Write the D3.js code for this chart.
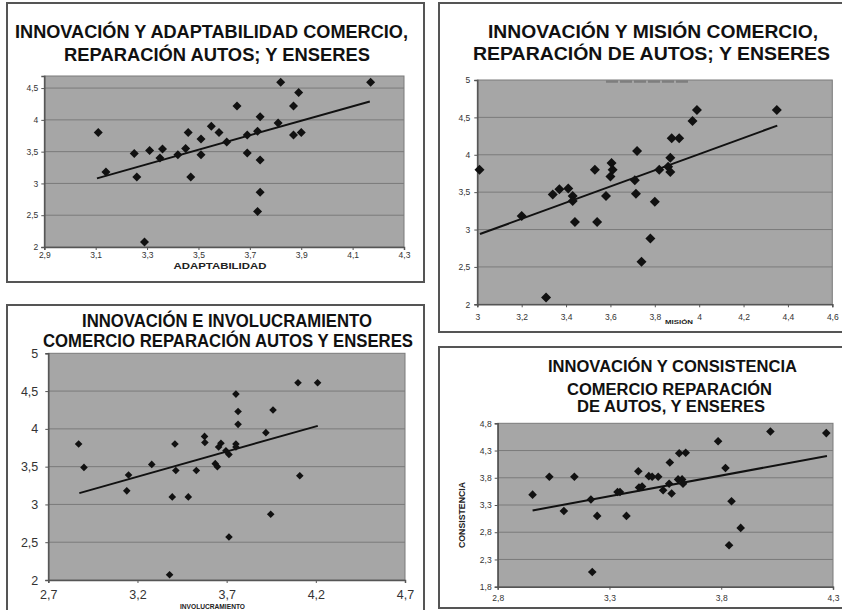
<!DOCTYPE html>
<html>
<head>
<meta charset="utf-8">
<script src="https://cdn.jsdelivr.net/npm/d3@7"></script>
<style>
  html, body { margin: 0; padding: 0; background: #ffffff; }
  svg { display: block; }
  text { font-family: "Liberation Sans", Arial, sans-serif; }
</style>
</head>
<body>
<svg id="chart" width="842" height="610"></svg>
<script>
// ---------- DATA ----------
// Panel 1: Innovación vs Adaptabilidad
const adaptX = [3.11, 3.14, 3.25, 3.26, 3.31, 3.36, 3.35, 3.29, 3.42, 3.45, 3.46, 3.47, 3.51, 3.51, 3.55, 3.58, 3.61, 3.65, 3.69, 3.69, 3.73, 3.74, 3.74, 3.74, 3.73, 3.81, 3.82, 3.87, 3.87, 3.89, 3.90, 4.17];
const adaptY = [3.80, 3.18, 3.47, 3.10, 3.52, 3.54, 3.40, 2.08, 3.45, 3.55, 3.80, 3.10, 3.70, 3.45, 3.90, 3.80, 3.65, 4.22, 3.76, 3.48, 3.82, 4.05, 3.37, 2.86, 2.56, 3.95, 4.59, 4.22, 3.76, 4.43, 3.80, 4.59];
const adaptTrend = [[3.105, 3.08], [4.167, 4.29]];
const adaptXTicks = [2.9, 3.1, 3.3, 3.5, 3.7, 3.9, 4.1, 4.3];
const adaptYTicks = [2, 2.5, 3, 3.5, 4, 4.5];

// Panel 2: Innovación vs Misión
const misionX = [3.01, 3.20, 3.31, 3.34, 3.37, 3.41, 3.43, 3.43, 3.44, 3.53, 3.54, 3.58, 3.605, 3.61, 3.60, 3.71, 3.72, 3.715, 3.74, 3.78, 3.80, 3.82, 3.86, 3.87, 3.87, 3.876, 3.91, 3.97, 3.99, 4.35];
const misionY = [3.80, 3.18, 2.09, 3.47, 3.54, 3.55, 3.45, 3.38, 3.10, 3.80, 3.10, 3.45, 3.89, 3.80, 3.71, 3.66, 4.05, 3.48, 2.57, 2.88, 3.37, 3.80, 3.84, 3.96, 3.77, 4.22, 4.22, 4.45, 4.60, 4.60];
const misionTrend = [[3.012, 2.94], [4.352, 4.39]];
const misionXTicks = [3, 3.2, 3.4, 3.6, 3.8, 4, 4.2, 4.4, 4.6];
const misionYTicks = [2, 2.5, 3, 3.5, 4, 4.5, 5];
const misionSmudge = [3.58, 3.95];   // faint leftover mark at the top of the plot

// Panel 3: Innovación vs Involucramiento
const involX = [2.87, 2.90, 3.15, 3.14, 3.28, 3.41, 3.415, 3.395, 3.38, 3.485, 3.53, 3.576, 3.578, 3.636, 3.648, 3.655, 3.668, 3.696, 3.713, 3.713, 3.752, 3.752, 3.752, 3.764, 3.764, 3.92, 3.947, 3.96, 4.10, 4.11, 4.21];
const involY = [3.80, 3.49, 3.39, 3.18, 3.53, 3.80, 3.45, 3.10, 2.07, 3.10, 3.45, 3.90, 3.82, 3.54, 3.50, 3.76, 3.81, 3.71, 3.66, 2.57, 4.46, 3.80, 3.76, 4.23, 4.06, 3.95, 2.87, 4.25, 4.61, 3.38, 4.61];
const involTrend = [[2.874, 3.15], [4.211, 4.04]];
const involXTicks = [2.7, 3.2, 3.7, 4.2, 4.7];
const involYTicks = [2, 2.5, 3, 3.5, 4, 4.5, 5];

// Panel 4: Innovación vs Consistencia
const consisX = [2.956, 3.031, 3.096, 3.143, 3.217, 3.223, 3.245, 3.336, 3.347, 3.376, 3.429, 3.432, 3.446, 3.476, 3.491, 3.518, 3.54, 3.567, 3.57, 3.578, 3.612, 3.607, 3.625, 3.629, 3.641, 3.786, 3.819, 3.846, 3.835, 3.887, 4.02, 4.27];
const consisY = [3.49, 3.82, 3.19, 3.82, 3.40, 2.07, 3.10, 3.54, 3.54, 3.10, 3.92, 3.62, 3.64, 3.83, 3.82, 3.82, 3.57, 3.69, 4.08, 3.51, 4.25, 3.77, 3.77, 3.69, 4.26, 4.47, 3.98, 3.37, 2.56, 2.88, 4.65, 4.62];
const consisTrend = [[2.956, 3.20], [4.273, 4.20]];
const consisXTicks = [2.8, 3.3, 3.8, 4.3];
const consisYTicks = [1.8, 2.3, 2.8, 3.3, 3.8, 4.3, 4.8];

// ---------- DRAWING ----------
const svg = d3.select("#chart");
const fmt = d => (Math.round(d * 10) / 10).toString().replace(".", ",");

function panel(cfg) {
  const g = svg.append("g");
  g.append("rect")
    .attr("x", cfg.frame[0]).attr("y", cfg.frame[1])
    .attr("width", cfg.frame[2] - cfg.frame[0]).attr("height", cfg.frame[3] - cfg.frame[1])
    .attr("fill", "#ffffff").attr("stroke", "#555").attr("stroke-width", 2);

  cfg.title.forEach(t => {
    g.append("text")
      .attr("x", t.x).attr("y", t.y)
      .attr("text-anchor", "middle")
      .attr("font-size", cfg.titleSize).attr("font-weight", "bold")
      .attr("fill", "#111")
      .attr("textLength", t.w).attr("lengthAdjust", "spacingAndGlyphs")
      .text(t.text);
  });

  const [x0, x1, y0, y1] = cfg.area;
  const xs = d3.scaleLinear().domain(cfg.xDomain).range([x0, x1]);
  const ys = d3.scaleLinear().domain(cfg.yDomain).range([y1, y0]);

  g.append("rect").attr("x", x0).attr("y", y0)
    .attr("width", x1 - x0).attr("height", y1 - y0)
    .attr("fill", "#a6a6a6").attr("stroke", "#7a7a7a").attr("stroke-width", 1);

  g.append("g").selectAll("line")
    .data(cfg.yTicks.filter(v => v > cfg.yDomain[0] && v < cfg.yDomain[1]))
    .join("line")
    .attr("x1", x0).attr("x2", x1)
    .attr("y1", d => ys(d)).attr("y2", d => ys(d))
    .attr("stroke", "#7b7b7b").attr("stroke-width", 1);

  if (cfg.smudge) {
    g.append("line")
      .attr("x1", xs(cfg.smudge[0])).attr("x2", xs(cfg.smudge[1]))
      .attr("y1", y0 + 1.5).attr("y2", y0 + 1.5)
      .attr("stroke", "#7e7e7e").attr("stroke-width", 2.5)
      .attr("stroke-dasharray", "12,2");
  }

  const ax = g.append("g").attr("transform", `translate(0,${y1})`)
    .call(d3.axisBottom(xs).tickValues(cfg.xTicks).tickFormat(fmt).tickSize(3).tickPadding(cfg.xPad));
  const ay = g.append("g").attr("transform", `translate(${x0},0)`)
    .call(d3.axisLeft(ys).tickValues(cfg.yTicks).tickFormat(fmt).tickSize(3).tickPadding(cfg.yPad));
  [ax, ay].forEach(a => {
    a.select(".domain").attr("stroke", "#555").attr("stroke-width", 1.5);
    a.selectAll(".tick line").attr("stroke", "#555");
    a.selectAll(".tick text").attr("fill", "#333")
      .attr("font-size", cfg.tickSize)
      .attr("font-family", "'Liberation Sans', Arial, sans-serif");
  });

  g.append("path")
    .datum(cfg.trend)
    .attr("d", d3.line().x(d => xs(d[0])).y(d => ys(d[1])))
    .attr("stroke", "#111").attr("stroke-width", 2).attr("fill", "none");

  const pts = cfg.xs.map((v, i) => [v, cfg.ys[i]]);
  const r = cfg.mr;
  g.append("g").selectAll("path")
    .data(pts).join("path")
    .attr("d", d => {
      const cx = xs(d[0]), cy = ys(d[1]);
      return `M${cx},${cy - r}L${cx + r},${cy}L${cx},${cy + r}L${cx - r},${cy}Z`;
    })
    .attr("fill", "#111");

  if (cfg.axisTitle) {
    const a = cfg.axisTitle;
    g.append("text")
      .attr("x", a.x).attr("y", a.y)
      .attr("text-anchor", "middle")
      .attr("font-size", a.size).attr("font-weight", "bold")
      .attr("fill", "#222")
      .attr("textLength", a.w).attr("lengthAdjust", "spacingAndGlyphs")
      .attr("transform", a.rotate ? `rotate(-90,${a.x},${a.y})` : null)
      .text(a.text);
  }
  return g;
}

panel({
  frame: [7, 3, 424, 282],
  title: [
    { text: "INNOVACIÓN Y ADAPTABILIDAD COMERCIO,", x: 211.5, y: 38, w: 393 },
    { text: "REPARACIÓN AUTOS; Y ENSERES", x: 217, y: 60.5, w: 306 }
  ],
  titleSize: 18,
  area: [44.3, 404, 76, 247],
  xDomain: [2.9, 4.3], yDomain: [2, 4.69],
  xTicks: adaptXTicks, yTicks: adaptYTicks,
  xPad: 2, yPad: 3, tickSize: 8.5,
  xs: adaptX, ys: adaptY, trend: adaptTrend, mr: 4.5,
  axisTitle: { text: "ADAPTABILIDAD", x: 220, y: 268.5, w: 93, size: 8.5 }
});

panel({
  frame: [439, 3, 844, 332],
  title: [
    { text: "INNOVACIÓN Y MISIÓN COMERCIO,", x: 653, y: 38, w: 330 },
    { text: "REPARACIÓN DE AUTOS; Y ENSERES", x: 651.5, y: 60, w: 357 }
  ],
  titleSize: 18,
  area: [477.3, 832.3, 80, 304.3],
  xDomain: [3, 4.6], yDomain: [2, 5],
  xTicks: misionXTicks, yTicks: misionYTicks,
  xPad: 7, yPad: 4, tickSize: 8.5,
  xs: misionX, ys: misionY, trend: misionTrend, mr: 5,
  smudge: misionSmudge,
  axisTitle: { text: "MISIÓN", x: 679, y: 324, w: 28, size: 6 }
});

panel({
  frame: [7, 305, 424, 616],
  title: [
    { text: "INNOVACIÓN E INVOLUCRAMIENTO", x: 227, y: 327, w: 290 },
    { text: "COMERCIO REPARACIÓN AUTOS Y ENSERES", x: 228, y: 346.7, w: 370 }
  ],
  titleSize: 18,
  area: [48.3, 405, 353.3, 580],
  xDomain: [2.7, 4.7], yDomain: [2, 5],
  xTicks: involXTicks, yTicks: involYTicks,
  xPad: 7, yPad: 7, tickSize: 12.5,
  xs: involX, ys: involY, trend: involTrend, mr: 3.8,
  axisTitle: { text: "INVOLUCRAMIENTO", x: 212.5, y: 609, w: 65, size: 6.5 }
});

panel({
  frame: [439, 347, 844, 608],
  title: [
    { text: "INNOVACIÓN Y CONSISTENCIA", x: 672.5, y: 371.7, w: 249 },
    { text: "COMERCIO REPARACIÓN", x: 669.5, y: 395, w: 205 },
    { text: "DE AUTOS, Y ENSERES", x: 671, y: 412, w: 188 }
  ],
  titleSize: 16,
  area: [497.7, 833, 423.3, 586.7],
  xDomain: [2.8, 4.3], yDomain: [1.8, 4.8],
  xTicks: consisXTicks, yTicks: consisYTicks,
  xPad: 5, yPad: 3, tickSize: 8.5,
  xs: consisX, ys: consisY, trend: consisTrend, mr: 4.3,
  axisTitle: { text: "CONSISTENCIA", x: 465, y: 515, w: 66, size: 9, rotate: true }
});
</script>
</body>
</html>
